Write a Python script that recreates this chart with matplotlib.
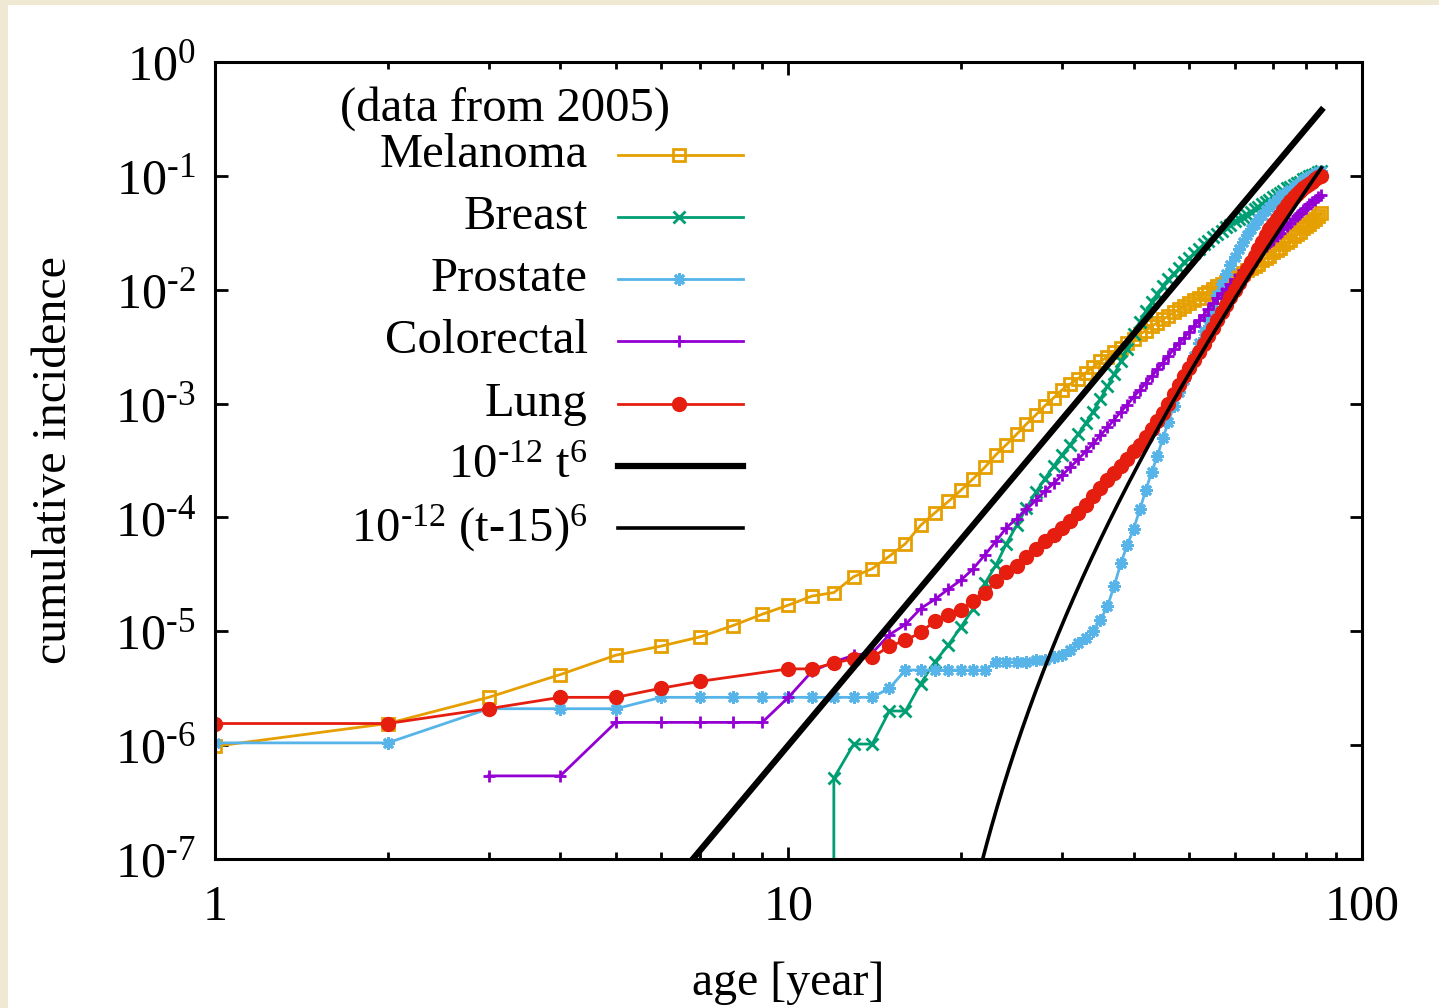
import numpy as np
import matplotlib
matplotlib.use('Agg')
import matplotlib.pyplot as plt
from matplotlib.ticker import LogLocator, NullFormatter
from matplotlib.patches import Rectangle

plt.rcParams['font.family'] = ['Liberation Serif', 'DejaVu Serif']
plt.rcParams['mathtext.fontset'] = 'custom'
plt.rcParams['mathtext.rm'] = 'Liberation Serif'
plt.rcParams['mathtext.it'] = 'Liberation Serif:italic'

# cumulative incidence, stored as log10 values (data from 2005)
melanoma_age = list(range(1, 86))
melanoma_log = [-6.01, -5.81, -5.58, -5.38, -5.21, -5.13, -5.05, -4.95, -4.85, -4.77,
                -4.69, -4.66, -4.52, -4.45, -4.34, -4.23, -4.07, -3.96, -3.86, -3.76,
                -3.66, -3.56, -3.45, -3.36, -3.27, -3.18, -3.10, -3.02, -2.95, -2.88,
                -2.83, -2.78, -2.73, -2.68, -2.63, -2.59, -2.55, -2.51, -2.47, -2.43,
                -2.39, -2.36, -2.32, -2.29, -2.26, -2.23, -2.20, -2.17, -2.14, -2.12,
                -2.09, -2.07, -2.04, -2.02, -1.99, -1.97, -1.95, -1.93, -1.91, -1.89,
                -1.87, -1.85, -1.83, -1.81, -1.79, -1.77, -1.74, -1.72, -1.70, -1.67,
                -1.65, -1.63, -1.60, -1.58, -1.56, -1.53, -1.51, -1.49, -1.46, -1.44,
                -1.42, -1.40, -1.38, -1.35, -1.33]

# first breast entry is zero incidence (drawn below the axis range)
breast_age = [12] + list(range(12, 86))
breast_log = [-9.0,
              -6.29, -5.99, -5.99, -5.70, -5.70, -5.46, -5.27, -5.12, -4.96, -4.80,
              -4.58, -4.42, -4.23, -4.07, -3.92, -3.78, -3.66, -3.55, -3.45, -3.36,
              -3.27, -3.17, -3.07, -2.96, -2.85, -2.74, -2.63, -2.52, -2.39, -2.28,
              -2.19, -2.11, -2.04, -1.97, -1.91, -1.86, -1.81, -1.76, -1.72, -1.68,
              -1.64, -1.60, -1.57, -1.54, -1.51, -1.48, -1.45, -1.43, -1.40, -1.38,
              -1.36, -1.34, -1.32, -1.29, -1.27, -1.25, -1.23, -1.21, -1.19, -1.17,
              -1.15, -1.13, -1.11, -1.10, -1.08, -1.06, -1.05, -1.03, -1.02, -1.00,
              -0.99, -0.98, -0.97, -0.96]

prostate_age = list(range(1, 86))
prostate_log = [-5.98, -5.98, -5.68, -5.68, -5.68, -5.58, -5.58, -5.58, -5.58, -5.58,
                -5.58, -5.58, -5.58, -5.58, -5.50, -5.34, -5.34, -5.34, -5.34, -5.34,
                -5.34, -5.34, -5.27, -5.27, -5.27, -5.27, -5.25, -5.25, -5.23, -5.21,
                -5.16, -5.10, -5.06, -5.00, -4.90, -4.78, -4.60, -4.40, -4.24, -4.10,
                -3.93, -3.76, -3.60, -3.46, -3.30, -3.16, -3.02, -2.90, -2.79, -2.69,
                -2.58, -2.47, -2.36, -2.25, -2.15, -2.05, -1.95, -1.86, -1.78, -1.71,
                -1.64, -1.58, -1.52, -1.47, -1.42, -1.38, -1.34, -1.30, -1.27, -1.24,
                -1.21, -1.18, -1.16, -1.14, -1.12, -1.10, -1.08, -1.06, -1.04, -1.02,
                -1.01, -0.99, -0.98, -0.97, -0.96]

colorectal_age = list(range(3, 86))
colorectal_log = [-6.27, -6.27, -5.80, -5.80, -5.80, -5.80, -5.80, -5.58, -5.35, -5.27,
                  -5.21, -5.19, -5.03, -4.94, -4.80, -4.72, -4.63, -4.55, -4.45, -4.33,
                  -4.21, -4.09, -4.01, -3.93, -3.85, -3.77, -3.70, -3.63, -3.56, -3.49,
                  -3.42, -3.35, -3.28, -3.21, -3.14, -3.07, -3.01, -2.94, -2.88, -2.82,
                  -2.76, -2.70, -2.64, -2.58, -2.52, -2.47, -2.42, -2.37, -2.32, -2.27,
                  -2.22, -2.17, -2.12, -2.07, -2.03, -1.99, -1.95, -1.91, -1.87, -1.83,
                  -1.79, -1.76, -1.72, -1.69, -1.65, -1.62, -1.59, -1.56, -1.53, -1.50,
                  -1.47, -1.44, -1.41, -1.38, -1.35, -1.33, -1.30, -1.28, -1.25, -1.23,
                  -1.21, -1.19, -1.17]

lung_age = list(range(1, 8)) + list(range(10, 86))
lung_log = [-5.81, -5.81, -5.68, -5.58, -5.58, -5.50, -5.44,
            -5.33, -5.33, -5.28, -5.24, -5.23, -5.13, -5.08, -5.01, -4.91, -4.86,
            -4.81, -4.73, -4.66, -4.56, -4.48, -4.43, -4.35, -4.28, -4.21, -4.15,
            -4.09, -4.03, -3.96, -3.89, -3.81, -3.74, -3.67, -3.61, -3.55, -3.49,
            -3.42, -3.36, -3.29, -3.22, -3.15, -3.08, -3.00, -2.92, -2.84, -2.76,
            -2.69, -2.62, -2.55, -2.48, -2.41, -2.34, -2.27, -2.20, -2.13, -2.06,
            -2.00, -1.94, -1.88, -1.82, -1.76, -1.70, -1.64, -1.58, -1.52, -1.47,
            -1.42, -1.38, -1.34, -1.30, -1.26, -1.22, -1.19, -1.16, -1.13, -1.11,
            -1.09, -1.07, -1.05, -1.03, -1.01, -1.00]

series = [
    ('Melanoma', melanoma_age, melanoma_log, '#e69f00', 's', 'none'),
    ('Breast', breast_age, breast_log, '#009e73', 'x', None),
    ('Prostate', prostate_age, prostate_log, '#56b4e9', (8, 2, 0), None),
    ('Colorectal', colorectal_age, colorectal_log, '#9400d3', '+', None),
    ('Lung', lung_age, lung_log, '#e51e10', 'o', None),
]

fig = plt.figure(figsize=(14.39, 10.08), dpi=100, facecolor='white')
# beige slide border along the left and top edges
fig.patches.append(Rectangle((0, 0), 8 / 1439, 1, transform=fig.transFigure,
                             facecolor='#efe8d2', edgecolor='none', zorder=-10))
fig.patches.append(Rectangle((0, 1 - 5 / 1008), 1, 5 / 1008, transform=fig.transFigure,
                             facecolor='#efe8d2', edgecolor='none', zorder=-10))
ax = fig.add_axes([0.1494, 0.1478, 0.797, 0.7907])

LW = 2.0
for name, age, lg, col, mk, mfc in series:
    kw = dict(color=col, lw=LW, marker=mk, ms=9, mew=2)
    if mfc is not None:
        kw['mfc'] = mfc
    ax.plot(age, 10 ** np.array(lg), **kw)

# power-law guides from the legend
t = np.linspace(1, 85, 600)
ax.plot(t, 1e-12 * t ** 6, color='black', lw=4.5)
t2 = t[t > 15]
ax.plot(t2, 1e-12 * (t2 - 15) ** 6, color='black', lw=2.6)

ax.set_xscale('log')
ax.set_yscale('log')
ax.set_xlim(1, 100)
ax.set_ylim(1e-7, 1)

ax.set_xticks([1, 10, 100])
ax.set_xticklabels(['1', '10', '100'])
ax.xaxis.set_minor_locator(LogLocator(base=10, subs=np.arange(2, 10)))
ax.xaxis.set_minor_formatter(NullFormatter())
yt = [10.0 ** k for k in range(-7, 1)]
ax.set_yticks(yt)
ax.set_yticklabels([r'$\mathregular{10^{\text{%s}}}$' % str(k) for k in range(-7, 1)])
ax.yaxis.set_minor_locator(LogLocator(base=10, subs=[2, 5, 8]))
ax.yaxis.set_minor_formatter(NullFormatter())

ax.tick_params(which='both', direction='in', top=True, right=True, width=2, labelsize=36)
ax.tick_params(which='major', length=9)
ax.tick_params(which='minor', length=5)
ax.tick_params(axis='x', pad=18)
ax.tick_params(axis='y', pad=14)
for s in ax.spines.values():
    s.set_linewidth(2.2)

ax.set_xlabel('age [year]', fontsize=34.5, labelpad=22)
ax.set_ylabel('cumulative incidence', fontsize=34.5, labelpad=28)

# gnuplot-style key: right-aligned labels, samples to the right
FS = 35
ax.text(0.397, 0.942, '(data from 2005)', transform=ax.transAxes, ha='right', va='center', fontsize=FS)
key_y = [0.883, 0.805, 0.728, 0.650, 0.571, 0.493, 0.415]
for (name, age, lg, col, mk, mfc), y in zip(series, key_y):
    ax.text(0.325, y, name, transform=ax.transAxes, ha='right', va='center', fontsize=FS)
    ax.plot([0.351, 0.460], [y, y], transform=ax.transAxes, color=col, lw=LW, clip_on=False)
    kw = dict(color=col, marker=mk, ms=9, mew=2)
    if mfc is not None:
        kw['mfc'] = mfc
    ax.plot([0.405], [y], transform=ax.transAxes, clip_on=False, **kw)
ax.text(0.325, key_y[5], r'10$^{\text{-12}}$ t$^{6}$', transform=ax.transAxes, ha='right', va='center', fontsize=FS)
ax.plot([0.351, 0.460], [key_y[5]] * 2, transform=ax.transAxes, color='black', lw=4.5, clip_on=False)
ax.text(0.325, key_y[6], r'10$^{\text{-12}}$ (t-15)$^{6}$', transform=ax.transAxes, ha='right', va='center', fontsize=FS)
ax.plot([0.351, 0.460], [key_y[6]] * 2, transform=ax.transAxes, color='black', lw=2.6, clip_on=False)

fig.savefig('out.png', dpi=100, facecolor=fig.get_facecolor())
